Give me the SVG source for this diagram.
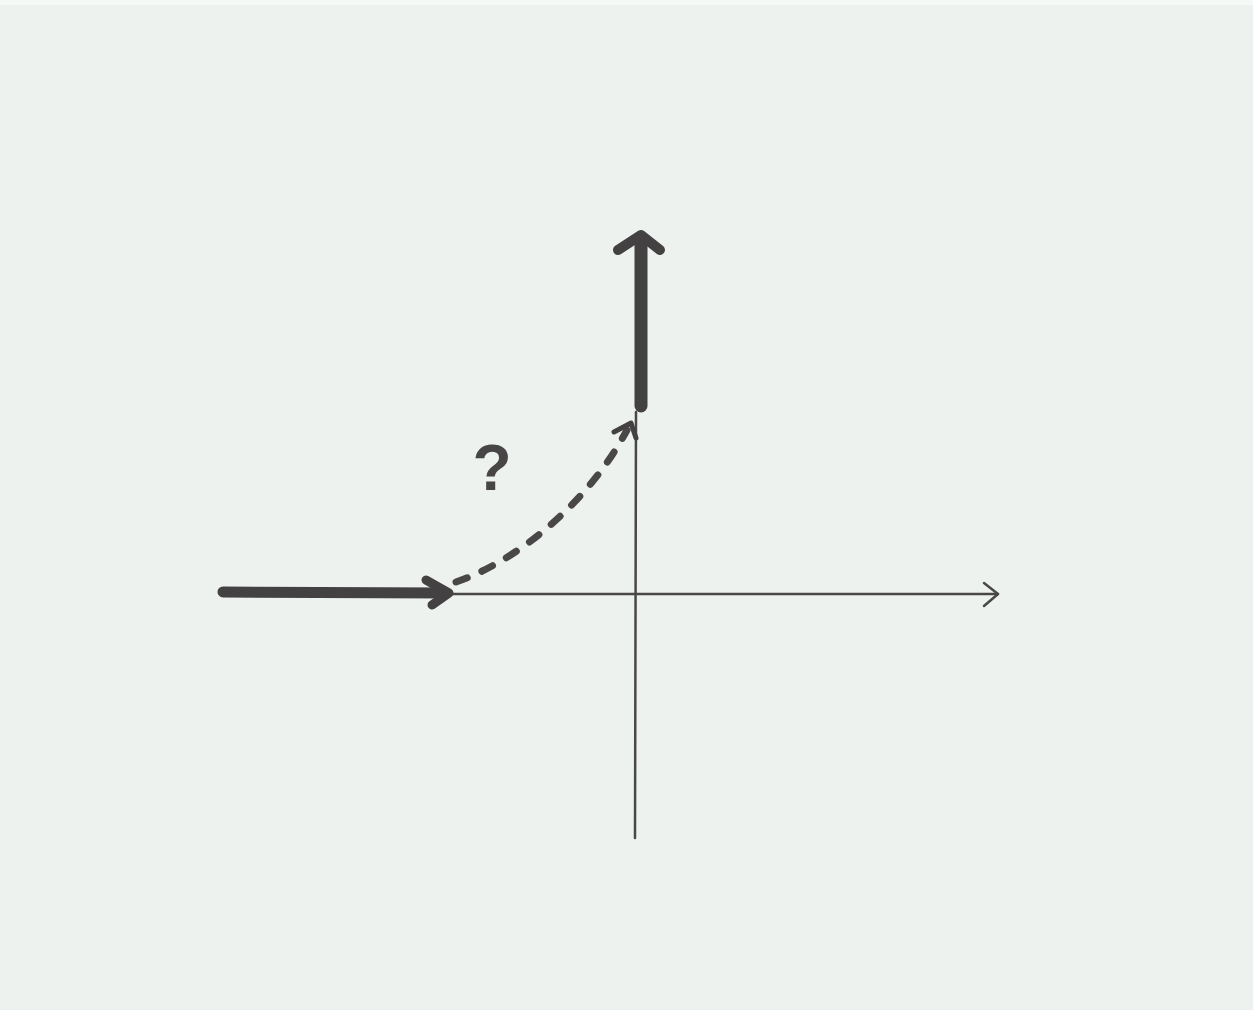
<svg xmlns="http://www.w3.org/2000/svg" width="1253" height="1010" viewBox="0 0 1253 1010">
<style>
.axis{stroke:#4a4748;stroke-width:2.5;fill:none;stroke-linecap:round;stroke-linejoin:round}
.thick{stroke:#434142;fill:none;stroke-linecap:round;stroke-linejoin:round}
.dash{stroke:#4a4748;stroke-width:7;fill:none;stroke-linecap:round;stroke-dasharray:12 16}
.q{font-family:"Liberation Sans",Arial,sans-serif;font-weight:bold;fill:#474546}
</style>
<rect width="1253" height="1010" fill="#edf2ee"/>
<rect x="0" y="0" width="1253" height="5" fill="#f6f8f6"/>
<g id="axes">
  <g id="x-axis">
    <path class="axis" d="M450 594 L998 594"/>
    <path class="axis" d="M984 583 L998 594 L984 606"/>
  </g>
  <g id="y-axis">
    <path class="axis" d="M636 412 L635 838"/>
  </g>
</g>
<g id="connectors">
  <g id="left-arrow">
    <path class="thick" stroke-width="11" d="M223 592 L446 593"/>
    <path class="thick" stroke-width="9" d="M426 580 L449 593 L432 605"/>
  </g>
  <g id="up-arrow">
    <path class="thick" stroke-width="13" d="M641 406 L641 240"/>
    <path class="thick" stroke-width="10" d="M618 250 L641 235 L660 250"/>
  </g>
  <g id="dashed-curve">
    <path class="dash" d="M456 582 C520 560 590 500 627 430"/>
    <path class="thick" stroke-width="5" d="M614 432 L631 423 L636 438"/>
  </g>
</g>
<g id="label">
  <text class="q" x="492" y="490" font-size="64" text-anchor="middle">?</text>
</g>
</svg>
